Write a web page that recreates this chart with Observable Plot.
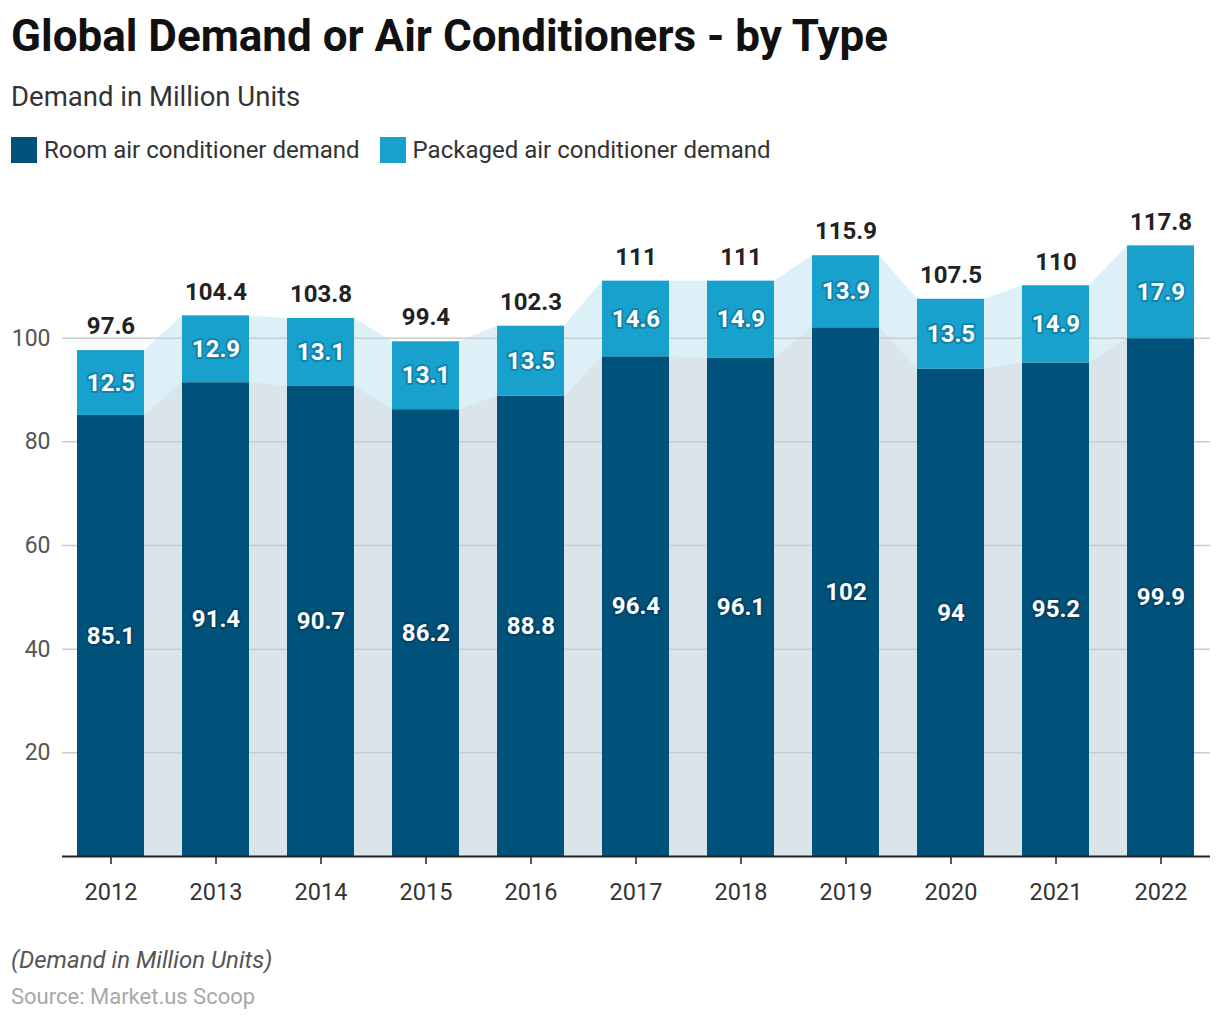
<!DOCTYPE html>
<html><head><meta charset="utf-8">
<script src="https://cdn.jsdelivr.net/npm/d3@7"></script>
<script src="https://cdn.jsdelivr.net/npm/@observablehq/plot@0.6"></script>
<style>
body{margin:0;background:#fff;font-family:Roboto,"Noto Sans",sans-serif;}
#wrap{width:1220px;height:1020px;position:relative;overflow:hidden;}
.abs{position:absolute;white-space:nowrap;}
#title{left:11px;top:13px;font-size:44px;line-height:46px;font-weight:700;color:#111;}
#subtitle{left:11px;top:82px;font-size:27.5px;line-height:30px;color:#333;}
#legend{left:11px;top:136px;font-size:24px;line-height:28px;color:#333;display:flex;align-items:center;}
.sw{display:inline-block;width:26px;height:26px;margin-right:7px;}
.item{display:flex;align-items:center;margin-right:20px;}
#chart{left:0;top:185px;}
#note{left:11px;top:946px;font-size:24px;line-height:28px;font-style:italic;color:#555;}
#source{left:11px;top:984px;font-size:22px;line-height:26px;color:#a8a8a8;}
</style></head>
<body><div id="wrap">
<div id="title" class="abs">Global Demand or Air Conditioners - by Type</div>
<div id="subtitle" class="abs">Demand in Million Units</div>
<div id="legend" class="abs"></div>
<div id="chart" class="abs"></div>
<div id="note" class="abs">(Demand in Million Units)</div>
<div id="source" class="abs">Source: Market.us Scoop</div>
</div>
<script>
const years = ["2012","2013","2014","2015","2016","2017","2018","2019","2020","2021","2022"];
const room = [85.1, 91.4, 90.7, 86.2, 88.8, 96.4, 96.1, 102, 94, 95.2, 99.9];
const packaged = [12.5, 12.9, 13.1, 13.1, 13.5, 14.6, 14.9, 13.9, 13.5, 14.9, 17.9];
const totals = [97.6, 104.4, 103.8, 99.4, 102.3, 111, 111, 115.9, 107.5, 110, 117.8];
const yTicks = [20, 40, 60, 80, 100];
const seriesNames = ["Room air conditioner demand", "Packaged air conditioner demand"];
const seriesColors = ["#00527A", "#18A1CD"];
const areaColors = ["#DAE4EB", "#DDF0F7"];

const data = years.map((y, i) => ({year: y, room: room[i], packaged: packaged[i], top: room[i] + packaged[i], total: totals[i]}));

const legend = document.getElementById("legend");
seriesNames.forEach((n, i) => {
  const it = document.createElement("div");
  it.className = "item";
  it.innerHTML = `<span class="sw" style="background:${seriesColors[i]}"></span><span>${n}</span>`;
  legend.appendChild(it);
});

function bandArea(lowFn, highFn, fill) {
  return (index, scales) => {
    const x = scales.x, y = scales.y;
    const bw = typeof x.bandwidth === "function" ? x.bandwidth() : 0;
    const pts = [];
    data.forEach(d => {
      const x0 = x(d.year);
      pts.push({x: x0, y0: y(lowFn(d)), y1: y(highFn(d))});
      pts.push({x: x0 + bw, y0: y(lowFn(d)), y1: y(highFn(d))});
    });
    const path = d3.area().x(p => p.x).y0(p => p.y0).y1(p => p.y1)(pts);
    return d3.create("svg:path").attr("d", path).attr("fill", fill).node();
  };
}

const fmt = v => String(v);

const plot = Plot.plot({
  width: 1220,
  height: 735,
  marginLeft: 62,
  marginRight: 10,
  marginTop: 49,
  marginBottom: 64,
  style: {fontFamily: "Roboto, sans-serif", background: "transparent"},
  x: {type: "band", domain: years, paddingInner: 0.36, paddingOuter: 0.14, label: null},
  y: {domain: [0, 120], label: null},
  marks: [
    bandArea(d => 0, d => d.top, areaColors[1]),
    bandArea(d => 0, d => d.room, areaColors[0]),
    Plot.ruleY(yTicks, {stroke: "#c9cccf", strokeWidth: 1.5}),
    Plot.barY(data, {x: "year", y1: 0, y2: "room", fill: seriesColors[0]}),
    Plot.barY(data, {x: "year", y1: "room", y2: "top", fill: seriesColors[1]}),
    Plot.ruleY([0], {stroke: "#222", strokeWidth: 2}),
    Plot.axisX({tickSize: 8, tickPadding: 19, fontSize: 23.5, color: "#333", stroke: "#222", strokeWidth: 1.5}),
    Plot.axisY({ticks: yTicks, tickSize: 0, tickPadding: 12, fontSize: 23, color: "#555", tickFormat: d => d}),
    Plot.text(data, {x: "year", y: "top", text: d => fmt(d.total), dy: -24, fontSize: 24, fontWeight: "bold", fill: "#222"}),
    Plot.text(data, {x: "year", y: d => d.room / 2, text: d => fmt(d.room), fontSize: 24, fontWeight: "bold", fill: "#fff", stroke: "#002e48", strokeWidth: 4, strokeOpacity: 0.4}),
    Plot.text(data, {x: "year", y: d => d.room + d.packaged / 2, text: d => fmt(d.packaged), fontSize: 24, fontWeight: "bold", fill: "#fff", stroke: "#0a5f82", strokeWidth: 4, strokeOpacity: 0.45})
  ]
});
document.getElementById("chart").appendChild(plot);
</script>
</body></html>
